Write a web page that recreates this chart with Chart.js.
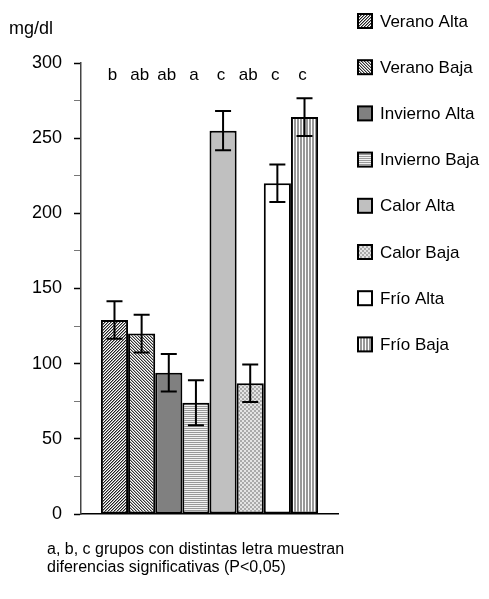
<!DOCTYPE html>
<html>
<head>
<meta charset="utf-8">
<script src="https://cdn.jsdelivr.net/npm/chart.js@4/dist/chart.umd.min.js"></script>
<style>
  body { margin: 0; background: #fff; }
  canvas { display: block; }
</style>
</head>
<body>
<canvas id="grafico" width="489" height="599"></canvas>
<script>
/* datos */
const grupos = ['Verano Alta', 'Verano Baja', 'Invierno Alta', 'Invierno Baja', 'Calor Alta', 'Calor Baja', 'Frío Alta', 'Frío Baja'];
const valores = [129, 120, 94, 74, 255, 87, 220, 264];
const errores = [12.5, 12.5, 12.5, 15, 13, 12.5, 12.5, 12.5];
const letras = ['b', 'ab', 'ab', 'a', 'c', 'ab', 'c', 'c'];
const ticksY = [0, 50, 100, 150, 200, 250, 300];

const fuente = "'Liberation Sans', Arial, sans-serif";

/* tramas de relleno, pixel a pixel */
function trama(size, fn) {
    const c = document.createElement('canvas');
    c.width = size; c.height = size;
    const g = c.getContext('2d');
    for (let y = 0; y < size; y++) {
        for (let x = 0; x < size; x++) {
            g.fillStyle = fn(x, y);
            g.fillRect(x, y, 1, 1);
        }
    }
    return g.createPattern(c, 'repeat');
}

const rellenos = [
    trama(6, (x, y) => ['#222', '#999', '#fff'][(x + y) % 3]),          // diagonal /
    trama(6, (x, y) => ['#333', '#aaa', '#fff'][(x - y + 12) % 3]),     // diagonal \
    '#808080',
    trama(6, (x, y) => ['#999', '#f2f2f2'][y % 2]),                     // horizontal
    '#c0c0c0',
    trama(4, (x, y) => ((x >> 1) + (y >> 1)) % 2 === 0 ? '#aaa' : '#e4e4e4'), // punteado
    '#ffffff',
    trama(6, (x, y) => ['#999', '#999', '#fff'][x % 3])                 // vertical
];

/* barras de error + letras de grupo */
const errorBars = {
    id: 'errorBars',
    afterDatasetsDraw(chart) {
        const ctx = chart.ctx;
        const y = chart.scales.y;
        ctx.save();
        ctx.strokeStyle = '#000';
        ctx.lineWidth = 2;
        chart.data.datasets.forEach((ds, i) => {
            const bar = chart.getDatasetMeta(i).data[0];
            const top = y.getPixelForValue(valores[i] + errores[i]);
            const bot = y.getPixelForValue(valores[i] - errores[i]);
            ctx.beginPath();
            ctx.moveTo(bar.x, top); ctx.lineTo(bar.x, bot);
            ctx.moveTo(bar.x - 8, top); ctx.lineTo(bar.x + 8, top);
            ctx.moveTo(bar.x - 8, bot); ctx.lineTo(bar.x + 8, bot);
            ctx.stroke();
        });
        ctx.fillStyle = '#000';
        ctx.font = '17px ' + fuente;
        ctx.textAlign = 'center';
        ctx.textBaseline = 'middle';
        chart.data.datasets.forEach((ds, i) => {
            const bar = chart.getDatasetMeta(i).data[0];
            ctx.fillText(letras[i], bar.x - 2, 75);
        });
        ctx.restore();
    }
};

/* leyenda a la derecha, titulo del eje y nota al pie */
const textos = {
    id: 'textos',
    afterDraw(chart) {
        const ctx = chart.ctx;
        ctx.save();
        ctx.fillStyle = '#000';
        ctx.textBaseline = 'middle';
        ctx.textAlign = 'left';
        ctx.font = '18px ' + fuente;
        ctx.fillText('mg/dl', 9, 29);

        chart.data.datasets.forEach((ds, i) => {
            const cy = 21 + i * 46.2;
            ctx.fillStyle = ds.backgroundColor;
            ctx.fillRect(358, cy - 7, 14, 14);
            ctx.strokeStyle = '#000';
            ctx.lineWidth = 2;
            ctx.strokeRect(358, cy - 7, 14, 14);
            ctx.fillStyle = '#000';
            ctx.font = '17px ' + fuente;
            ctx.fillText(ds.label, 380, cy + 1);
        });

        ctx.font = '16px ' + fuente;
        ctx.fillText('a, b, c grupos con distintas letra muestran', 47, 550);
        ctx.fillText('diferencias significativas (P<0,05)', 47, 568);
        ctx.restore();
    }
};

new Chart(document.getElementById('grafico'), {
    type: 'bar',
    data: {
        labels: [''],
        datasets: grupos.map((g, i) => ({
            label: g,
            data: [valores[i]],
            backgroundColor: rellenos[i],
            borderColor: '#000',
            borderWidth: 2,
            borderSkipped: false
        }))
    },
    options: {
        responsive: false,
        animation: false,
        categoryPercentage: 0.845,
        barPercentage: 1.0,
        layout: { padding: { left: 0, top: 63, right: 151, bottom: 0 } },
        plugins: {
            legend: { display: false },
            tooltip: { enabled: false }
        },
        scales: {
            x: {
                ticks: { display: false },
                grid: { display: false },
                border: { display: true, color: '#000', width: 1.5 },
                afterFit: (s) => { s.height = 85; }
            },
            y: {
                min: 0,
                max: 300,
                ticks: {
                    stepSize: 25,
                    autoSkip: false,
                    padding: 12,
                    color: '#000',
                    font: { family: fuente, size: 18 },
                    callback: (v) => ticksY.includes(v) ? v : ''
                },
                grid: {
                    drawOnChartArea: false,
                    tickLength: 7,
                    tickColor: (c) => c.tick && ticksY.includes(c.tick.value) ? '#000' : '#777',
                    tickWidth: (c) => c.tick && ticksY.includes(c.tick.value) ? 1.5 : 1
                },
                border: { display: true, color: '#444', width: 1.5 },
                afterFit: (s) => { s.width = 81; }
            }
        }
    },
    plugins: [errorBars, textos]
});
</script>
</body>
</html>
